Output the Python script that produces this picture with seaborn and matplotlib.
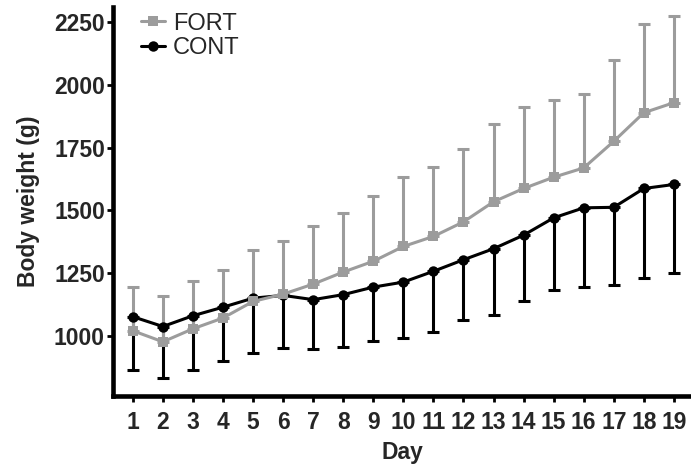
import matplotlib
matplotlib.use('Agg')
import matplotlib.pyplot as plt
import seaborn as sns
import pandas as pd

# Values (mean, and one-sided SD)
days = list(range(1, 20))
fort_mean = [1020, 976, 1028, 1071, 1137, 1166, 1206, 1254, 1297, 1356,
             1396, 1454, 1534, 1587, 1632, 1669, 1775, 1889, 1929]
fort_upper = [1196, 1160, 1217, 1263, 1343, 1379, 1439, 1490, 1556, 1631,
              1672, 1746, 1846, 1912, 1939, 1962, 2101, 2243, 2274]
cont_mean = [1076, 1037, 1080, 1114, 1150, 1161, 1144, 1164, 1194, 1214,
             1257, 1303, 1347, 1401, 1470, 1510, 1512, 1587, 1603]
cont_lower = [864, 832, 864, 900, 933, 953, 948, 955, 980, 991,
              1017, 1061, 1081, 1137, 1181, 1194, 1201, 1230, 1250]

df = pd.DataFrame({
    'Day': days * 2,
    'Weight': fort_mean + cont_mean,
    'Group': ['FORT'] * len(days) + ['CONT'] * len(days),
})

sns.set_style("white")
plt.rcParams['font.family'] = ['Liberation Sans', 'DejaVu Sans']

gray = '#9c9c9c'
fig = plt.figure(figsize=(6.91, 4.72), dpi=100)
ax = fig.add_axes([0.164, 0.161, 0.836, 0.824])

# one-sided error bars: FORT upward, CONT downward
fort_err = [0] * len(days), [u - m for u, m in zip(fort_upper, fort_mean)]
cont_err = [m - l for m, l in zip(cont_mean, cont_lower)], [0] * len(days)
ax.errorbar(days, cont_mean, yerr=cont_err, fmt='none', ecolor='black',
            elinewidth=2.2, capsize=4, capthick=2.2, zorder=2)
ax.errorbar(days, fort_mean, yerr=fort_err, fmt='none', ecolor=gray,
            elinewidth=2.2, capsize=4, capthick=2.2, zorder=2)

sns.lineplot(data=df, x='Day', y='Weight', hue='Group', style='Group',
             hue_order=['FORT', 'CONT'], style_order=['FORT', 'CONT'],
             palette={'FORT': gray, 'CONT': 'black'},
             markers={'FORT': 's', 'CONT': 'o'}, dashes=False,
             linewidth=2.2, markersize=7.5, markeredgewidth=0, ax=ax, zorder=3)

# put FORT line above CONT
for line in ax.lines:
    if line.get_color() == gray:
        line.set_zorder(4)

ax.set_xlim(0.35, 19.57)
ax.set_ylim(760, 2310)
ax.set_xticks(days)
ax.set_yticks([1000, 1250, 1500, 1750, 2000, 2250])

for side in ['top', 'right']:
    ax.spines[side].set_visible(False)
for side in ['left', 'bottom']:
    ax.spines[side].set_linewidth(3.3)
    ax.spines[side].set_color('black')

ax.tick_params(axis='both', which='major', length=4, width=2, color='black',
               labelsize=16.5, direction='out', left=True, bottom=True)
ax.tick_params(axis='x', pad=7)
ax.tick_params(axis='y', pad=2)
for lab in ax.get_xticklabels() + ax.get_yticklabels():
    lab.set_fontweight('bold')

ax.set_xlabel('Day', fontsize=16.5, fontweight='bold', labelpad=5)
ax.set_ylabel('Body weight (g)', fontsize=16.5, fontweight='bold', labelpad=10)

leg = ax.legend(loc='upper left', bbox_to_anchor=(0.032, 1.01), frameon=False,
                fontsize=17, handlelength=1.0, handletextpad=0.35,
                labelspacing=0.1, borderaxespad=0)

fig.savefig('out.png', dpi=100)
